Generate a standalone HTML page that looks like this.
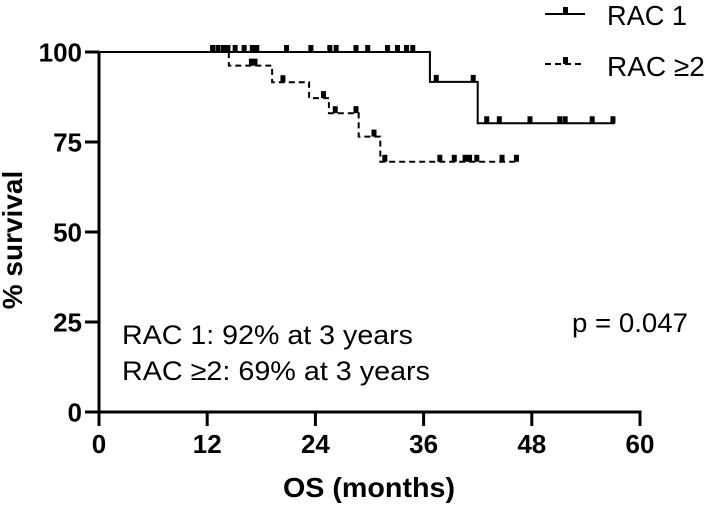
<!DOCTYPE html>
<html><head><meta charset="utf-8"><style>
body{margin:0;background:#fff;}
svg{display:block;font-family:"Liberation Sans",sans-serif;}
</style></head><body>
<svg id="chart" width="709" height="507" viewBox="0 0 709 507"></svg>
<script>
const xTicks=[0,12,24,36,48,60];
const yTicks=[0,25,50,75,100];
const rac1Steps=[[0,100],[36.7,91.7],[42.0,80.2],[57.2,80.2]];
const rac1Censor=[[12.6,100],[13.2,100],[13.8,100],[14.3,100],[15.1,100],[16.1,100],[17.0,100],[17.5,100],[20.8,100],[23.5,100],[25.6,100],[26.3,100],[28.5,100],[29.8,100],[32.0,100],[33.1,100],[34.1,100],[34.8,100],[37.4,91.7],[41.5,91.7],[43.0,80.2],[44.4,80.2],[47.8,80.2],[51.1,80.2],[51.7,80.2],[54.7,80.2],[57.0,80.2]];
const rac2Steps=[[0,100],[14.4,96.2],[19.2,91.6],[23.3,87.2],[25.5,83.0],[28.8,76.5],[31.2,69.5],[46.5,69.5]];
const rac2Censor=[[16.9,96.2],[17.3,96.2],[20.4,91.6],[24.9,87.2],[26.2,83.0],[28.5,83.0],[30.5,76.5],[31.7,69.5],[37.8,69.5],[39.4,69.5],[40.6,69.5],[41.1,69.5],[41.9,69.5],[44.7,69.5],[46.3,69.5]];
const NS="http://www.w3.org/2000/svg";
const svg=document.getElementById('chart');
const X=v=>99+v*(541/60);
const Y=v=>412-v*3.6;
function mk(t,a,p){const e=document.createElementNS(NS,t);for(const k in a)e.setAttribute(k,a[k]);(p||svg).appendChild(e);return e;}
let ax=mk('line',{x1:99,y1:Y(100),x2:99,y2:412,stroke:'#000','stroke-width':3});


let ax2=mk('line',{x1:97.5,y1:412,x2:X(60)+1.5,y2:412,stroke:'#000','stroke-width':3});


xTicks.forEach(v=>{
  let t=mk('line',{x1:X(v),y1:412,x2:X(v),y2:426,stroke:'#000','stroke-width':3});
  
  
  let l=mk('text',{x:X(v),y:453,'text-anchor':'middle','font-size':26,'font-weight':'bold'});l.textContent=v;
  
  
});
yTicks.forEach(v=>{
  let t=mk('line',{x1:85,y1:Y(v),x2:99,y2:Y(v),stroke:'#000','stroke-width':3});
  
  
  let l=mk('text',{x:82,y:Y(v)+9.5,'text-anchor':'end','font-size':26,'font-weight':'bold'});l.textContent=v;
  
  
});
function stepPath(s){let d='M'+X(s[0][0])+','+Y(s[0][1]);for(let i=1;i<s.length;i++){d+=' H'+X(s[i][0])+' V'+Y(s[i][1]);}return d;}
let p1=mk('path',{d:stepPath(rac1Steps),fill:'none',stroke:'#000','stroke-width':2});


let p2=mk('path',{d:stepPath(rac2Steps),fill:'none',stroke:'#000','stroke-width':2,'stroke-dasharray':'6,4'});


function censors(arr,name){arr.forEach(c=>{let r=mk('rect',{x:X(c[0])-2.5,y:Y(c[1])-7,width:5,height:7,fill:'#000'});
  
  });}
censors(rac1Censor,'rac1-censor-mark');
censors(rac2Censor,'rac2-censor-mark');
</script>
<script>
(function(){
const NS="http://www.w3.org/2000/svg";const svg=document.getElementById('chart');
function mk(t,a){const e=document.createElementNS(NS,t);for(const k in a)e.setAttribute(k,a[k]);svg.appendChild(e);return e;}
let g1=mk('line',{x1:545,y1:14,x2:585,y2:14,stroke:'#000','stroke-width':2});


let m1=mk('rect',{x:563,y:7,width:5,height:7,fill:'#000'});


let t1=mk('text',{x:607,y:25,'font-size':28,textLength:80,lengthAdjust:'spacingAndGlyphs'});t1.textContent='RAC 1';


let g2=mk('line',{x1:545,y1:64,x2:585,y2:64,stroke:'#000','stroke-width':2,'stroke-dasharray':'6,4'});


let m2=mk('rect',{x:563,y:57,width:5,height:7,fill:'#000'});


let t2=mk('text',{x:607,y:76,'font-size':28});t2.textContent='RAC ≥2';


let a1=mk('text',{x:122,y:344,'font-size':27,textLength:291,lengthAdjust:'spacingAndGlyphs'});a1.textContent='RAC 1: 92% at 3 years';


let a2=mk('text',{x:122,y:380,'font-size':27,textLength:308,lengthAdjust:'spacingAndGlyphs'});a2.textContent='RAC ≥2: 69% at 3 years';


let pv=mk('text',{x:572,y:332,'font-size':27,textLength:116,lengthAdjust:'spacingAndGlyphs'});pv.textContent='p = 0.047';


let xt=mk('text',{x:283,y:497,'font-size':28,'font-weight':'bold',textLength:172,lengthAdjust:'spacingAndGlyphs'});xt.textContent='OS (months)';


let yt=mk('text',{x:0,y:0,'text-anchor':'middle','font-size':28,'font-weight':'bold',transform:'translate(22,240) rotate(-90)'});yt.textContent='% survival';


})();
</script>
</body></html>
